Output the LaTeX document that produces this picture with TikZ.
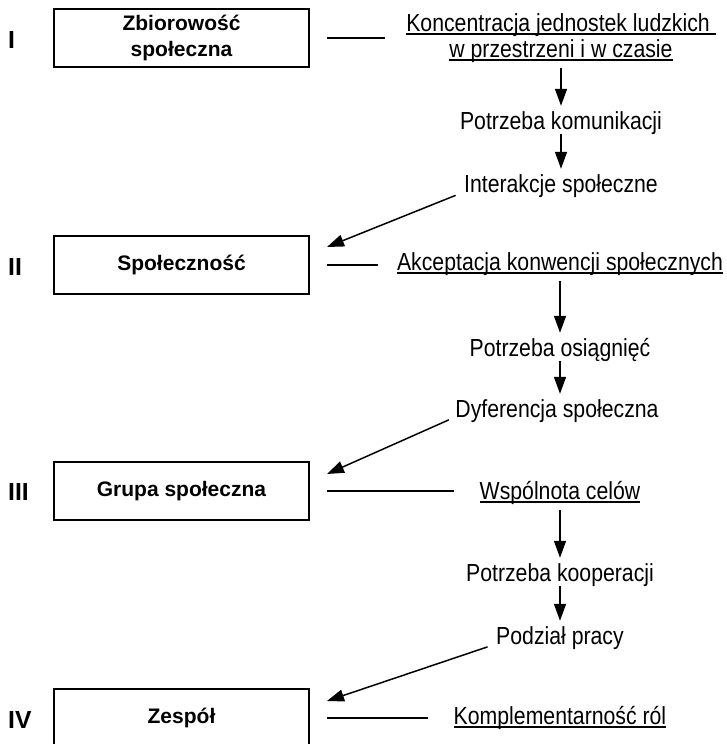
\documentclass[tikz,border=0pt]{standalone}
\usepackage{fontspec}
\setmainfont{Liberation Sans}
\newfontfamily\narrowsans[FakeStretch=0.86]{Liberation Sans}
\usetikzlibrary{arrows.meta}
\tikzset{>={Triangle[length=17pt,width=12pt]}}
\newcommand\undl[1]{\setbox0\hbox{#1}\rlap{\rule[-3.5pt]{\wd0}{1.4pt}}\box0}

\begin{document}
\begin{tikzpicture}[x=1pt,y=-1pt,
    stage/.style={draw,line width=2pt,minimum width=255pt,minimum height=58pt,inner sep=0pt,align=center,font=\bfseries\fontsize{21}{26}\selectfont},
    numeral/.style={anchor=base west,inner sep=0pt,font=\bfseries\fontsize{24.7}{26}\selectfont},
    cause/.style={anchor=base,inner sep=0pt,text height=18pt,text depth=5pt,font=\narrowsans\fontsize{24.7}{26}\selectfont},
    trait/.style={cause,text depth=11pt},
    link/.style={line width=1.5pt}]
            \useasboundingbox (0,0) rectangle (726,744);

            % Stages
            \node[stage] (zb) at (181.5,38) {Zbiorowość\\społeczna};
            \node[stage] (soc) at (181.5,265) {Społeczność};
            \node[stage] (grp) at (181.5,491) {Grupa społeczna};
            \node[stage] (zesp) at (181.5,718) {Zespół};
            \node[numeral] (nI) at (8,48) {I};
            \node[numeral] (nII) at (8,275) {II};
            \node[numeral] (nIII) at (8,500) {III};
            \node[numeral] (nIV) at (8,728) {IV};

            % Features and needs
            \node[cause] (konc) at (561,31) {\undl{Koncentracja jednostek ludzkich\ }};
            \node[trait] (konc2) at (561,57) {\undl{w przestrzeni i w czasie}};
            \node[cause] (pkom) at (561,129) {Potrzeba komunikacji};
            \node[cause] (inter) at (561,192) {Interakcje społeczne};
            \node[trait] (akc) at (560,270) {\undl{Akceptacja konwencji społecznych}};
            \node[cause] (posi) at (560,356) {Potrzeba osiągnięć};
            \node[cause] (dyf) at (557,417) {Dyferencja społeczna};
            \node[trait] (wsp) at (560,499) {\undl{Wspólnota celów}};
            \node[cause] (pkoop) at (560,581) {Potrzeba kooperacji};
            \node[cause] (podz) at (560,644) {Podział pracy};
            \node[trait] (komp) at (560,724) {\undl{Komplementarność ról}};

            % Lines
            \draw [link,shorten <=17pt,shorten >=21pt] (zb.east) -- (zb.east -| konc.west);
            \draw [link,shorten <=17pt,shorten >=19pt] (soc.east) -- (soc.east -| akc.west);
            \draw [link,shorten <=17pt,shorten >=26pt] (grp.east) -- (grp.east -| wsp.west);
            \draw [link,shorten <=17pt,shorten >=26pt] (zesp.east) -- (zesp.east -| komp.west);

            % Arrows
            \draw [->,link,shorten >=5pt] (konc2) -- (konc2 |- pkom.north);
            \draw [->,link,shorten >=5pt] (pkom) -- (pkom |- inter.north);
            \draw [->,link,shorten >=5pt] (akc) -- (akc |- posi.north);
            \draw [->,link,shorten >=5pt] (posi) -- (posi |- dyf.north);
            \draw [->,link,shorten >=5pt] (wsp) -- (wsp |- pkoop.north);
            \draw [->,link,shorten >=5pt] (pkoop) -- (pkoop |- podz.north);
            \draw [->,link,shorten <=9pt] (inter.base west) -- ([shift={(17,12)}]soc.north east);
            \draw [->,link,shorten <=7pt] (dyf.base west) -- ([shift={(17,13)}]grp.north east);
            \draw [->,link,shorten <=9pt] (podz.base west) -- ([shift={(17,13)}]zesp.north east);
        \end{tikzpicture}
\end{document}
